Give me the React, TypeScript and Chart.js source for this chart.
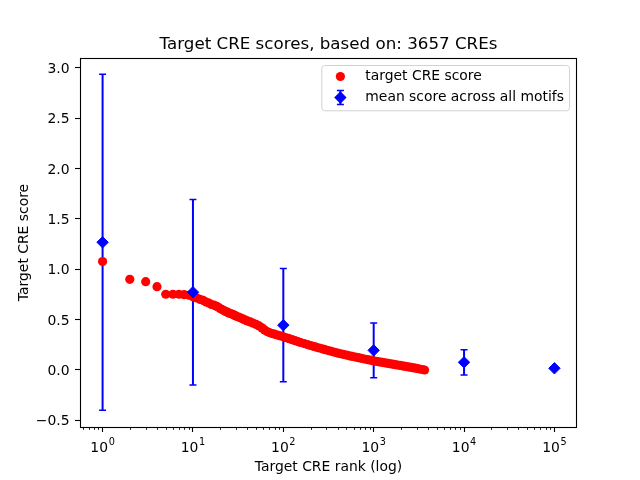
import { useEffect, useRef } from 'react';
import { Chart, registerables } from 'chart.js';

Chart.register(...registerables);

const titleText = 'Target CRE scores, based on: 3657 CREs';
const xAxisTitle = 'Target CRE rank (log)';
const yAxisTitle = 'Target CRE score';
const legendLabels = ['target CRE score', 'mean score across all motifs'];

// Target CRE scores by rank (sampled along the rank axis)
const creRanks = [
  1, 2, 3, 4, 5, 6, 7, 8, 9, 10, 11, 12, 13, 14, 15, 16, 17, 18, 19, 20,
  21, 22, 23, 24, 25, 26, 27, 28, 29, 30,
  32, 34, 36, 38, 40, 43, 46, 50, 54, 58, 62, 66, 70, 75, 80, 86, 92, 100,
  108, 116, 125, 135, 145, 155, 170, 185, 200, 215, 230, 250, 270, 290, 315,
  340, 370, 400, 430, 460, 500, 540, 580, 630, 680, 730, 790, 850, 920, 1000,
  1080, 1160, 1250, 1350, 1450, 1560, 1680, 1800, 1950, 2100, 2250, 2420,
  2600, 2800, 3000, 3220, 3450, 3657,
];
const creScores = [
  1.076, 0.9, 0.877, 0.827, 0.752, 0.752, 0.752, 0.748, 0.742, 0.728, 0.715,
  0.7, 0.69, 0.675, 0.665, 0.65, 0.645, 0.635, 0.625, 0.61, 0.6, 0.59, 0.58,
  0.575, 0.565, 0.56, 0.555, 0.55, 0.54, 0.535,
  0.525, 0.515, 0.505, 0.495, 0.487, 0.477, 0.466, 0.452, 0.437, 0.418, 0.398,
  0.382, 0.371, 0.362, 0.355, 0.347, 0.339, 0.33, 0.32, 0.311, 0.301, 0.291,
  0.282, 0.273, 0.262, 0.252, 0.243, 0.235, 0.227, 0.218, 0.21, 0.202, 0.193,
  0.185, 0.176, 0.168, 0.161, 0.155, 0.148, 0.141, 0.135, 0.128, 0.122, 0.116,
  0.109, 0.103, 0.097, 0.09, 0.085, 0.08, 0.075, 0.07, 0.065, 0.06, 0.055,
  0.05, 0.045, 0.04, 0.035, 0.03, 0.025, 0.02, 0.015, 0.01, 0.005, 0.0,
];

// Mean score across all motifs, with error (± std)
const meanRanks = [1, 10, 100, 1000, 10000, 100000];
const meanScores = [1.268, 0.772, 0.445, 0.195, 0.076, 0.017];
const meanErrors = [1.668, 0.92, 0.563, 0.272, 0.125, 0.01];

const xMajorTicks = [1, 10, 100, 1000, 10000, 100000];
const xTickBase = '10';
const xTickExponents = ['0', '1', '2', '3', '4', '5'];
const yTicks = [-0.5, 0, 0.5, 1, 1.5, 2, 2.5, 3];
const yTickLabels = ['\u22120.5', '0.0', '0.5', '1.0', '1.5', '2.0', '2.5', '3.0'];

const xMin = Math.pow(10, -0.25);
const xMax = Math.pow(10, 5.25);
const yMin = -0.566;
const yMax = 3.097;

const RED = '#ff0000';
const BLUE = '#0000ff';
const FONT = '"DejaVu Sans", sans-serif';

const minorTicks: number[] = [];
for (let e = -1; e <= 5; e++) {
  for (let m = 2; m <= 9; m++) {
    const v = m * Math.pow(10, e);
    if (v > xMin && v < xMax) minorTicks.push(v);
  }
}

function diamond(ctx: CanvasRenderingContext2D, x: number, y: number, r: number) {
  ctx.beginPath();
  ctx.moveTo(x, y - r);
  ctx.lineTo(x + r, y);
  ctx.lineTo(x, y + r);
  ctx.lineTo(x - r, y);
  ctx.closePath();
}

const decorPlugin = {
  id: 'decor',
  beforeDatasetsDraw(chart: any) {
    const { ctx, scales } = chart;
    const xs = scales.x;
    const ys = scales.y;
    ctx.save();
    ctx.strokeStyle = BLUE;
    meanRanks.forEach((r, i) => {
      const px = xs.getPixelForValue(r);
      const lo = ys.getPixelForValue(meanScores[i] - meanErrors[i]);
      const hi = ys.getPixelForValue(meanScores[i] + meanErrors[i]);
      ctx.lineWidth = 2;
      ctx.beginPath();
      ctx.moveTo(px, lo);
      ctx.lineTo(px, hi);
      ctx.stroke();
      ctx.lineWidth = 1.5;
      ctx.beginPath();
      ctx.moveTo(px - 3.5, lo);
      ctx.lineTo(px + 3.5, lo);
      ctx.moveTo(px - 3.5, hi);
      ctx.lineTo(px + 3.5, hi);
      ctx.stroke();
    });
    ctx.restore();
  },
  afterDatasetsDraw(chart: any) {
    const { ctx, chartArea: a, scales } = chart;
    const xs = scales.x;
    ctx.save();
    // spines
    ctx.strokeStyle = '#000';
    ctx.lineWidth = 1.1;
    ctx.strokeRect(a.left + 0.5, a.top + 0.5, a.right - a.left - 1, a.bottom - a.top);
    // minor ticks
    ctx.lineWidth = 0.9;
    ctx.beginPath();
    minorTicks.forEach((v) => {
      const px = Math.round(xs.getPixelForValue(v)) + 0.5;
      ctx.moveTo(px, a.bottom);
      ctx.lineTo(px, a.bottom + 2.8);
    });
    ctx.stroke();

    // x tick labels (10 with superscript exponent)
    ctx.fillStyle = '#000';
    ctx.textBaseline = 'alphabetic';
    ctx.textAlign = 'left';
    xMajorTicks.forEach((v, i) => {
      const px = xs.getPixelForValue(v);
      ctx.font = `13.9px ${FONT}`;
      const wb = ctx.measureText(xTickBase).width;
      ctx.font = `9.7px ${FONT}`;
      const we = ctx.measureText(xTickExponents[i]).width;
      const left = px - (wb + 0.6 + we) / 2;
      ctx.font = `13.9px ${FONT}`;
      ctx.fillText(xTickBase, left, 451.7);
      ctx.font = `9.7px ${FONT}`;
      ctx.fillText(xTickExponents[i], left + wb + 0.6, 445.3);
    });

    // title
    ctx.font = `16.7px ${FONT}`;
    ctx.textAlign = 'center';
    ctx.textBaseline = 'alphabetic';
    const cx = (a.left + a.right) / 2;
    ctx.fillText(titleText, cx, a.top - 8.6);
    // axis titles
    ctx.font = `13.9px ${FONT}`;
    ctx.fillText(xAxisTitle, cx, 471);
    ctx.save();
    ctx.translate(28, (a.top + a.bottom) / 2);
    ctx.rotate(-Math.PI / 2);
    ctx.fillText(yAxisTitle, 0, 0);
    ctx.restore();

    // legend
    ctx.font = `13.9px ${FONT}`;
    const tw = Math.max(...legendLabels.map((l) => ctx.measureText(l).width));
    const boxRight = a.right - 7.5;
    const boxTop = a.top + 7.5;
    const boxW = 43.5 + tw + 5.6;
    const boxLeft = boxRight - boxW;
    const boxH = 45.3;
    ctx.fillStyle = 'rgba(255,255,255,0.8)';
    ctx.strokeStyle = '#d2d2d2';
    ctx.lineWidth = 1;
    ctx.beginPath();
    (ctx as any).roundRect(boxLeft, boxTop, boxW, boxH, 3);
    ctx.fill();
    ctx.stroke();

    const hx = boxLeft + 18.6;
    const y1 = boxTop + 11;
    const y2 = boxTop + 32;
    ctx.fillStyle = RED;
    ctx.beginPath();
    ctx.arc(hx, y1, 4.6, 0, Math.PI * 2);
    ctx.fill();

    ctx.strokeStyle = BLUE;
    ctx.lineWidth = 2;
    ctx.beginPath();
    ctx.moveTo(hx, y2 - 7);
    ctx.lineTo(hx, y2 + 7);
    ctx.stroke();
    ctx.lineWidth = 1.5;
    ctx.beginPath();
    ctx.moveTo(hx - 3.5, y2 - 7);
    ctx.lineTo(hx + 3.5, y2 - 7);
    ctx.moveTo(hx - 3.5, y2 + 7);
    ctx.lineTo(hx + 3.5, y2 + 7);
    ctx.stroke();
    ctx.fillStyle = BLUE;
    diamond(ctx, hx, y2, 6.2);
    ctx.fill();

    ctx.fillStyle = '#000';
    ctx.textAlign = 'left';
    ctx.textBaseline = 'middle';
    ctx.fillText(legendLabels[0], boxLeft + 43.5, y1);
    ctx.fillText(legendLabels[1], boxLeft + 43.5, y2);
    ctx.restore();
  },
};

export default function App() {
  const ref = useRef<HTMLCanvasElement>(null);
  useEffect(() => {
    document.body.style.margin = '0';
    const canvas = ref.current!;
    const chart = new Chart(canvas, {
      type: 'scatter',
      data: {
        datasets: [
          {
            label: legendLabels[1],
            data: meanRanks.map((r, i) => ({ x: r, y: meanScores[i] })),
            pointStyle: 'rectRot',
            pointRadius: 5.7,
            pointBorderWidth: 1,
            borderColor: BLUE,
            backgroundColor: BLUE,
            order: 0,
          },
          {
            label: legendLabels[0],
            data: creRanks.map((r, i) => ({ x: r, y: creScores[i] })),
            pointStyle: 'circle',
            pointRadius: 4.6,
            pointBorderWidth: 0,
            borderColor: RED,
            backgroundColor: RED,
            order: 1,
          },
        ],
      },
      options: {
        responsive: false,
        animation: false,
        events: [],
        layout: { padding: { top: 58, right: 63, left: 0, bottom: 0 } },
        plugins: {
          legend: { display: false },
          title: { display: false },
          tooltip: { enabled: false },
        },
        scales: {
          x: {
            type: 'logarithmic',
            position: 'bottom',
            min: xMin,
            max: xMax,
            afterBuildTicks: (scale: any) => {
              scale.ticks = xMajorTicks.map((v) => ({ value: v }));
            },
            afterFit: (scale: any) => {
              scale.height = 53;
            },
            border: { display: false },
            grid: {
              display: true,
              drawOnChartArea: false,
              drawTicks: true,
              tickLength: 5,
              tickColor: '#000',
              tickWidth: 1.1,
            },
            ticks: {
              display: false,
              autoSkip: false,
              maxRotation: 0,
            },
          },
          y: {
            type: 'linear',
            position: 'left',
            min: yMin,
            max: yMax,
            afterBuildTicks: (scale: any) => {
              scale.ticks = yTicks.map((v) => ({ value: v }));
            },
            afterFit: (scale: any) => {
              scale.width = 80;
            },
            border: { display: false },
            grid: {
              display: true,
              drawOnChartArea: false,
              drawTicks: true,
              tickLength: 5,
              tickColor: '#000',
              tickWidth: 1.1,
            },
            ticks: {
              padding: 5.5,
              labelOffset: 1.5,
              color: '#000',
              font: { family: FONT, size: 13.9 },
              callback: (_v: any, i: number) => yTickLabels[i],
            },
          },
        },
      },
      plugins: [decorPlugin],
    } as any);
    return () => chart.destroy();
  }, []);
  return (
    <div style={{ width: 640, height: 480 }}>
      <canvas ref={ref} width={640} height={480} style={{ display: 'block' }} />
    </div>
  );
}
